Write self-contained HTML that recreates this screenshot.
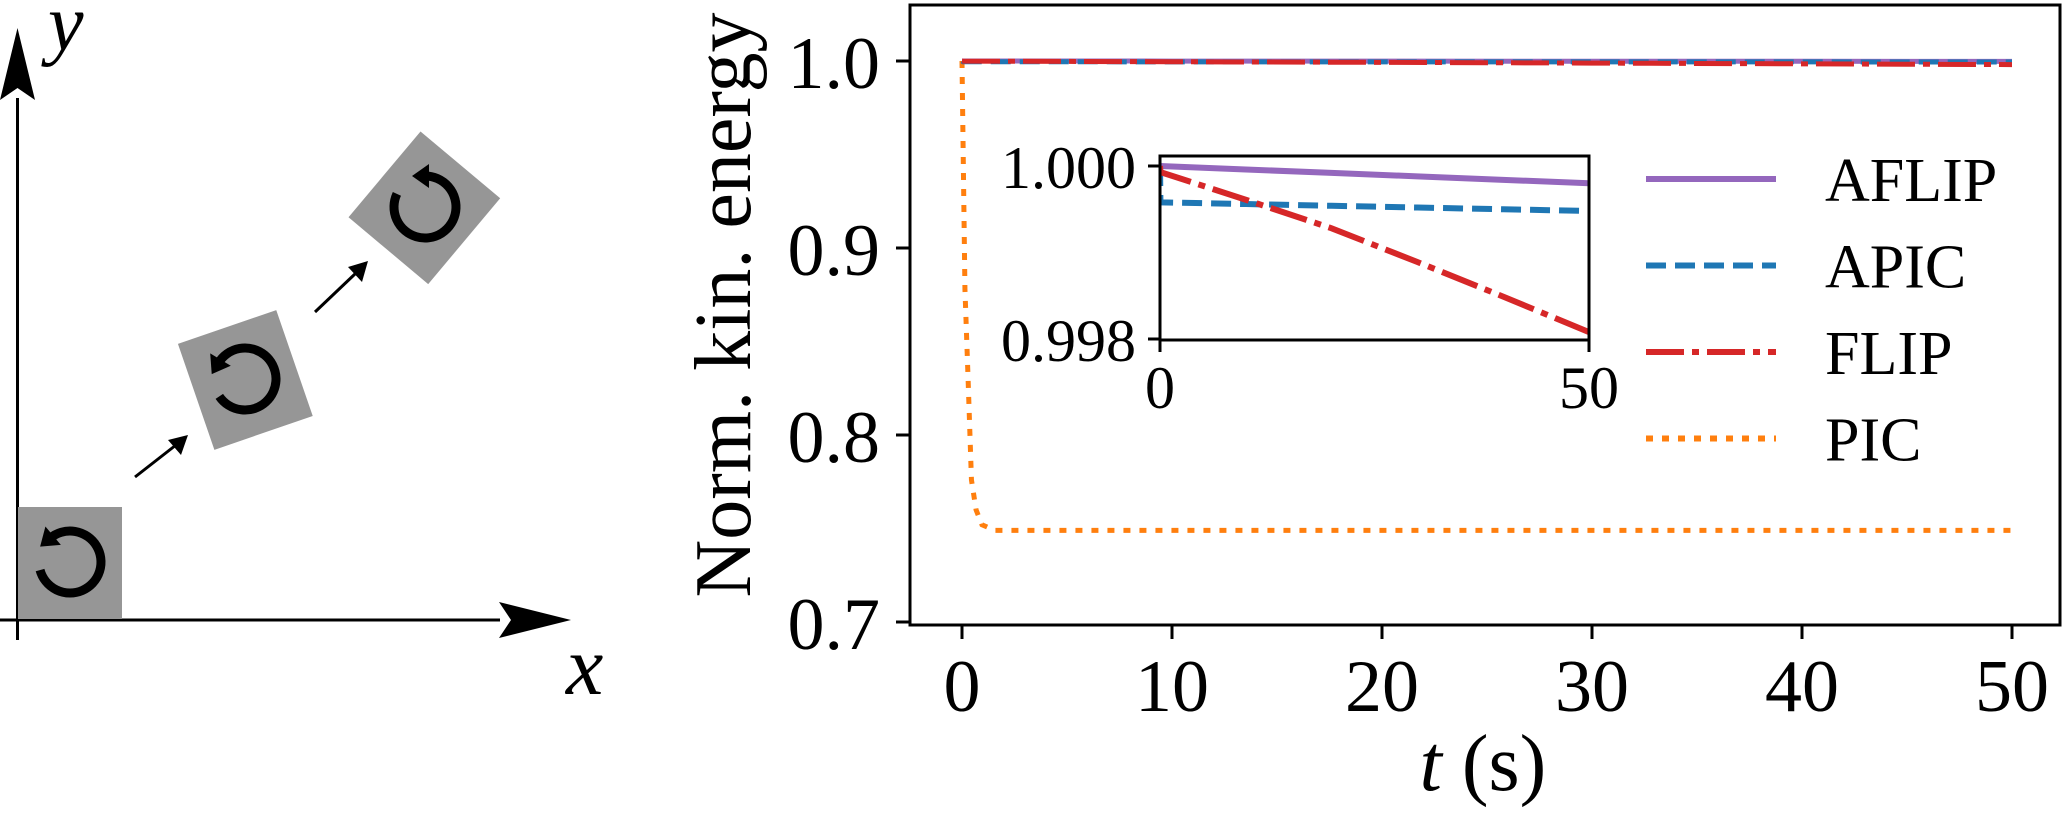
<!DOCTYPE html>
<html><head><meta charset="utf-8"><style>
html,body{margin:0;padding:0;background:#fff;overflow:hidden;width:2067px;height:827px;}
svg{display:block;font-family:"Liberation Serif",serif;}
</style></head><body>
<svg id="fig" width="2067" height="827" viewBox="0 0 2067 827">
  <g>
    <line x1="17.5" y1="98" x2="17.5" y2="640" stroke="#000" stroke-width="3"/>
    <polygon points="17.5,28 0,100 17.5,88 35,100" fill="#000"/>
    <line x1="0" y1="620" x2="500" y2="620" stroke="#000" stroke-width="3"/>
    <polygon points="571,620 499,602 511,620 499,638" fill="#000"/>
    <text x="48" y="50" font-size="80" font-style="italic">y</text>
    <text x="566" y="694" font-size="84" font-style="italic">x</text>
    <g id="sq1" transform="translate(70,562)"></g>
    <g id="sq2" transform="translate(245,379) rotate(-19)"></g>
    <g id="sq3" transform="translate(425,207) rotate(40)"></g>
    <line x1="135" y1="477" x2="176" y2="445" stroke="#000" stroke-width="3"/>
    <polygon points="188,435 168,440 181,455" fill="#000"/>
    <line x1="315" y1="312" x2="356" y2="273" stroke="#000" stroke-width="3"/>
    <polygon points="368,261 348,267 362,282" fill="#000"/>
  </g>
  <g id="main"></g>
  <g id="inset"></g>
  <g id="legend"></g>
</svg>
<script>
const NS='http://www.w3.org/2000/svg';
function mk(tag,attrs,parent){const e=document.createElementNS(NS,tag);for(const k in attrs)e.setAttribute(k,attrs[k]);parent.appendChild(e);return e;}

['sq1','sq2','sq3'].forEach(function(id,i){
  const g=document.getElementById(id);
  const r=mk('rect',{x:-52,y:-55,width:104,height:112,fill:'#969696'},g);
  
  
  const R=31, a0=165*Math.PI/180, a1=-130*Math.PI/180;
  const sx=R*Math.cos(a0), sy=R*Math.sin(a0), ex=R*Math.cos(a1), ey=R*Math.sin(a1);
  const arc=mk('path',{d:`M${sx},${sy} A${R},${R} 0 1 0 ${ex},${ey}`,fill:'none',stroke:'#000','stroke-width':9},g);
  
  
  const dx=Math.sin(a1), dy=-Math.cos(a1), px=-dy, py=dx;
  const tx=ex+dx*13, ty=ey+dy*13, bx=ex-dx*4, by=ey-dy*4;
  const head=mk('polygon',{points:`${tx},${ty} ${bx+px*12},${by+py*12} ${bx-px*12},${by-py*12}`,fill:'#000'},g);
  
  
});

// ---- chart data ----
const tCoarse=[0,10,20,30,40,50];
const aflipVals=[1.0,0.99996,0.99992,0.99988,0.99984,0.9998];
const apicT=[0,0.05,10,20,30,40,50];
const apicVals=[1.0,0.99958,0.99956,0.99954,0.99952,0.9995,0.99948];
const flipT=[0,0.05,10,20,30,40,50];
const flipVals=[1.0,0.99993,0.99961,0.99928,0.99889,0.99849,0.99808];
const picT=[0,0.14,0.29,0.45,0.67,0.95,1.57,50];
const picVals=[1.0,0.878,0.83,0.776,0.76,0.752,0.749,0.749];
const mainXTicks=[0,10,20,30,40,50];
const mainYTicks=[0.7,0.8,0.9,1.0];
const mainYTickLabels=['0.7','0.8','0.9','1.0'];
const insetXTicks=[0,50];
const insetYTicks=[0.998,1.0];
const insetYTickLabels=['0.998','1.000'];
const seriesNames=['AFLIP','APIC','FLIP','PIC'];

const colors={AFLIP:'#9467bd',APIC:'#1f77b4',FLIP:'#d62728',PIC:'#ff7f0e'};
const dashes={AFLIP:'none',APIC:'20,9',FLIP:'38,8,7,8',PIC:'7,9'};

const mX=t=>962+t*21.0;
const mY=v=>61+(1-v)*1870;
const iX=t=>1160+t*8.58;
const iY=v=>166+(1-v)*86500;

function line(g,ts,vs,X,Y,name,lw,clip){
  const d=ts.map((t,i)=>(i?'L':'M')+X(t).toFixed(2)+','+Y(vs[i]).toFixed(2)).join(' ');
  const p=mk('path',{d:d,fill:'none',stroke:colors[name],'stroke-width':lw,'stroke-dasharray':dashes[name]},g);
  if(clip)p.setAttribute('clip-path',clip);
  
  
}

const main=document.getElementById('main');
const defs=mk('defs',{},document.getElementById('fig'));
const cp=mk('clipPath',{id:'mclip'},defs); mk('rect',{x:910,y:5,width:1150,height:620},cp);
const cp2=mk('clipPath',{id:'iclip'},defs); mk('rect',{x:1160,y:156,width:429,height:184},cp2);

line(main,picT,picVals,mX,mY,'PIC',5,'url(#mclip)');
line(main,tCoarse,aflipVals,mX,mY,'AFLIP',5,'url(#mclip)');
line(main,apicT,apicVals,mX,mY,'APIC',5,'url(#mclip)');
line(main,flipT,flipVals,mX,mY,'FLIP',5,'url(#mclip)');

const frame=mk('rect',{x:910,y:5,width:1150,height:620,fill:'none',stroke:'#000','stroke-width':3},main);



mainXTicks.forEach(t=>{
  const tk=mk('line',{x1:mX(t),y1:625,x2:mX(t),y2:639,stroke:'#000','stroke-width':3},main);
  
  
  const tl=mk('text',{x:mX(t),y:711,'font-size':74,'text-anchor':'middle'},main);
  tl.textContent=String(t);
  
  
});
mainYTicks.forEach((v,i)=>{
  const tk=mk('line',{x1:896,y1:mY(v),x2:910,y2:mY(v),stroke:'#000','stroke-width':3},main);
  
  
  const tl=mk('text',{x:880,y:mY(v)+27,'font-size':74,'text-anchor':'end'},main);
  tl.textContent=mainYTickLabels[i];
  
  
});
const xl=mk('text',{x:1483,y:790,'font-size':80,'text-anchor':'middle'},main);
xl.innerHTML='<tspan font-style="italic">t</tspan> (s)';


const yl=mk('text',{x:0,y:0,'font-size':80,'text-anchor':'middle',transform:'translate(750,305) rotate(-90)'},main);
yl.textContent='Norm. kin. energy';



const inset=document.getElementById('inset');
const ibg=mk('rect',{x:1160,y:156,width:429,height:184,fill:'#fff'},inset);


const picInsetT=[0,0.001];
const picInsetVals=[1.0,0.9];
line(inset,picInsetT,picInsetVals,iX,iY,'PIC',2,'url(#iclip)');
line(inset,tCoarse,aflipVals,iX,iY,'AFLIP',6,'url(#iclip)');
line(inset,apicT,apicVals,iX,iY,'APIC',6,'url(#iclip)');
line(inset,flipT,flipVals,iX,iY,'FLIP',6,'url(#iclip)');
const iframe=mk('rect',{x:1160,y:156,width:429,height:184,fill:'none',stroke:'#000','stroke-width':3},inset);


insetXTicks.forEach(t=>{
  const tk=mk('line',{x1:iX(t),y1:340,x2:iX(t),y2:352,stroke:'#000','stroke-width':3},inset);
  
  
  const tl=mk('text',{x:iX(t),y:408,'font-size':60,'text-anchor':'middle'},inset);
  tl.textContent=String(t);
  
  
});
insetYTicks.forEach((v,i)=>{
  const tk=mk('line',{x1:1148,y1:iY(v),x2:1160,y2:iY(v),stroke:'#000','stroke-width':3},inset);
  
  
  const tl=mk('text',{x:1136,y:iY(v)+22,'font-size':60,'text-anchor':'end'},inset);
  tl.textContent=insetYTickLabels[i];
  
  
});

const legend=document.getElementById('legend');
seriesNames.forEach((n,i)=>{
  const y=179+i*86.5;
  const ln=mk('line',{x1:1646,y1:y,x2:1776,y2:y,stroke:colors[n],'stroke-width':6,'stroke-dasharray':dashes[n]},legend);
  
  
  const tx=mk('text',{x:1825,y:y+22,'font-size':62},legend);
  tx.textContent=n;
  
  
});
</script>
</body></html>
